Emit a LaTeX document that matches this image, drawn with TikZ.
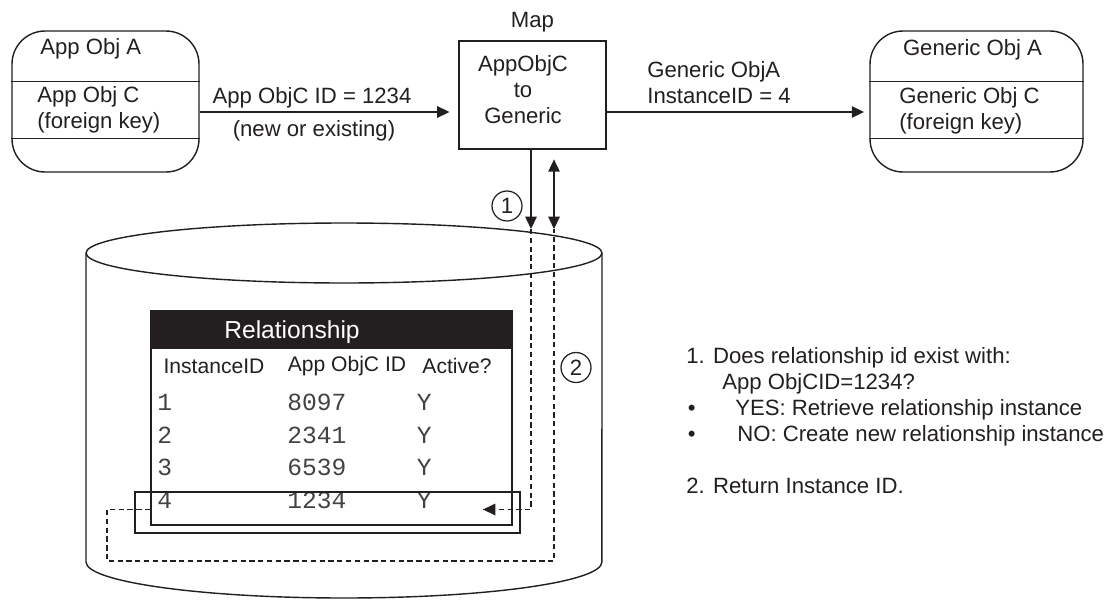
\documentclass[tikz,border=0pt]{standalone}
\usepackage{fontspec}
\setmainfont{Liberation Sans}
\setmonofont{Liberation Mono}
\usepackage{tikz}
\usetikzlibrary{arrows.meta,positioning,calc}
\definecolor{DiagInk}{HTML}{231F20}
\tikzset{
  figlabel/.style={font=\fontsize{12.6}{14.8}\selectfont, text=DiagInk, inner sep=0pt},
  figsmall/.style={font=\fontsize{12}{14}\selectfont, text=DiagInk, inner sep=0pt},
  rowtext/.style={font=\ttfamily\fontsize{14}{16}\selectfont, text=DiagInk!85, inner sep=0pt, anchor=base west},
  objbox/.style={draw=DiagInk, line width=0.8pt, rounded corners=0.66cm, minimum height=2.82cm},
  mapbox/.style={draw=DiagInk, line width=0.8pt, minimum width=2.94cm, minimum height=2.16cm},
  tablebox/.style={draw=DiagInk, line width=0.8pt, minimum width=7.22cm, minimum height=4.28cm},
  headbar/.style={fill=DiagInk, draw=DiagInk, line width=0.8pt, minimum width=7.22cm, minimum height=0.74cm, anchor=north west},
  hitbox/.style={draw=DiagInk, line width=0.8pt, minimum width=7.7cm, minimum height=0.82cm},
  stepnum/.style={draw=DiagInk, circle, line width=0.7pt, minimum size=0.6cm, inner sep=0pt},
  figline/.style={draw=DiagInk, line width=0.8pt},
  figarrow/.style={-{Triangle[length=7pt,width=6.5pt]}, line width=0.8pt, draw=DiagInk},
  figboth/.style={{Triangle[length=7pt,width=6.5pt]}-{Triangle[length=7pt,width=6.5pt]}, line width=0.8pt, draw=DiagInk},
  figdash/.style={line width=0.8pt, draw=DiagInk, dash pattern=on 3pt off 2pt}
}
\begin{document}
\begin{tikzpicture}[x=0.02cm, y=0.02cm, every node/.style={figlabel}]
\useasboundingbox (0,0) rectangle (1111,600);

% objects on both sides and the map in the middle
\node[objbox, minimum width=3.74cm] (appA) at (105.5,498.5) {};
\node[objbox, minimum width=4.26cm] (genA) at (976.5,498.5) {};
\foreach \b in {appA,genA} {
  \draw[figline] (\b.west |- 0,518.5) -- (\b.east |- 0,518.5);
  \draw[figline] (\b.west |- 0,461.5) -- (\b.east |- 0,461.5);
}
\node[anchor=west] (appAname) at (40,551) {App Obj A};
\node[anchor=west, align=left] (appCkey) at (37,490) {App Obj C\\(foreign key)};
\node (genAname) at (972.5,550) {Generic Obj A};
\node[anchor=west, align=left] (genCkey) at (899,489) {Generic Obj C\\(foreign key)};

\node[mapbox] (map) at (532.5,505) {};
\node[above=4.5pt of map] (maplbl) {Map};
\node[align=center] (maptext) at (523,510) {AppObjC\\to\\Generic};

\coordinate (flow) at (0,488);
\draw[figarrow, shorten >=5pt] (appA.east |- flow) -- (map.west |- flow);
\node (idlbl) at (312,502) {App ObjC ID = 1234};
\node (newlbl) at (314,469) {(new or existing)};
\draw[figarrow, shorten >=3pt] (map.east |- flow) -- (genA.west |- flow);
\node[anchor=west, align=left] (instlbl) at (647,517) {Generic ObjA\\InstanceID = 4};

% database
\draw[figline] (344,347) ellipse [x radius=5.16cm, y radius=0.6cm];
\draw[figline] (86,347) -- (86,38) arc[start angle=180, end angle=360, x radius=5.16cm, y radius=0.72cm] -- (602,347);

% relationship table
\node[tablebox] (rel) at (331.5,182) {};
\node[headbar] (relhead) at (rel.north west) {};
\node[text=white, font=\fontsize{14}{16}\selectfont] (reltitle) at (292,268) {Relationship};
\node[figsmall] (colinst) at (214,234) {InstanceID};
\node[figsmall] (colapp) at (347,234) {App ObjC ID};
\node[figsmall] (colact) at (457,234) {Active?};
\foreach \id/\app [count=\r from 0] in {1/8097,2/2341,3/6539,4/1234} {
  \node[rowtext] (inst\id) at (157,189.5-32.5*\r) {\id};
  \node[rowtext] (app\id) at (287,189.5-32.5*\r) {\app};
  \node[rowtext] (act\id) at (416.5,189.5-32.5*\r) {Y};
}
\node[hitbox] (hit) at (327.5,87.5) {};

% lookup and return
\coordinate (q1) at (531,371);
\coordinate (q2) at (554,371);
\coordinate (q1end) at (483,90.5);
\draw[figarrow] (map.south -| q1) -- (q1);
\draw[figboth, shorten <=5.5pt] (map.south -| q2) -- (q2);
\node[stepnum] (n1) at (507,394) {1};
\node[stepnum] (n2) at (576,232.5) {2};
\draw[figdash] (q1) |- (q1end);
\draw[-{Triangle[length=7pt,width=6.5pt]}, line width=0.8pt, draw=DiagInk] ($(q1end)+(1,0)$) -- (q1end);
\draw[figdash] (rel.west |- q1end) -- (107,90.5) -- (107,39) -- (554,39) -- (q2);

% notes
\node[anchor=north west, align=left] (notes) at (686,253) {1. Does relationship id exist with:\\
\hspace*{0.72cm}App ObjCID=1234?\\
\makebox[0.98cm][l]{\hspace*{0.03cm}•}YES: Retrieve relationship instance\\
\makebox[1.02cm][l]{\hspace*{0.03cm}•}NO: Create new relationship instance\\[14.8pt]
2. Return Instance ID.};
\end{tikzpicture}
\end{document}
